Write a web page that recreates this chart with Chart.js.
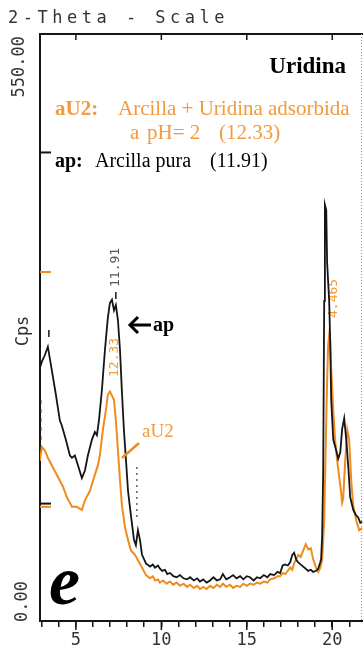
<!DOCTYPE html>
<html><head><meta charset="utf-8">
<script src="https://cdn.jsdelivr.net/npm/chart.js@4.4.0/dist/chart.umd.min.js"></script>
<style>
html,body{margin:0;padding:0;background:#fff;}
#wrap{position:relative;width:363px;height:647px;overflow:hidden;}
#title{position:absolute;left:8px;top:7px;font:17px "DejaVu Sans Mono",monospace;line-height:20px;letter-spacing:4.5px;color:#333;white-space:pre;}
</style></head><body>
<div id="wrap"><canvas id="c" width="363" height="647"></canvas><div id="title">2-Theta - Scale</div></div>
<script>
// ---- data (2-Theta in degrees, intensity in Cps) ----
const apTheta = [2.89,3.01,3.18,3.36,3.59,3.83,4.06,4.18,4.41,4.65,4.77,4.94,5.12,5.35,5.53,5.70,5.94,6.11,6.23,6.35,6.52,6.70,6.87,6.99,7.11,7.23,7.34,7.46,7.58,7.69,7.81,7.93,8.05,8.22,8.40,8.51,8.63,8.75,8.87,9.10,9.34,9.50,9.63,9.80,9.92,10.05,10.21,10.35,10.51,10.70,10.90,11.09,11.30,11.50,11.68,11.90,12.10,12.26,12.45,12.65,12.85,13.05,13.25,13.44,13.60,13.80,14.02,14.20,14.40,14.61,14.80,15.00,15.19,15.40,15.60,15.78,16.00,16.20,16.37,16.60,16.80,16.95,17.10,17.24,17.40,17.54,17.66,17.77,17.90,18.01,18.15,18.30,18.45,18.59,18.75,18.88,19.05,19.18,19.30,19.35,19.41,19.47,19.53,19.57,19.65,19.70,19.76,19.82,19.88,19.94,20.06,20.23,20.35,20.47,20.58,20.70,20.82,20.95,21.05,21.23,21.40,21.52,21.64,21.75];
const apCps = [237,243,249,257,235,212,188,183,170,155,153,155,146,134,141,155,170,177,174,188,216,254,284,298,301,291,296,282,254,216,179,151,122,99,76,71,85,76,62,54,51,53,50,52,49,47,48,44,45,42,41,43,40,39,41,38,40,37,39,36,38,41,38,39,44,39,41,43,40,42,39,42,41,38,41,40,43,41,44,43,46,45,52,53,52,55,62,64,57,55,53,51,49,47,48,46,47,49,55,58,80,140,300,390,385,336,318,300,263,207,170,160,152,158,180,190,170,142,116,104,99,97,92,93];

const aU2Theta = [2.89,3.01,3.18,3.36,3.65,3.95,4.24,4.47,4.77,5.06,5.35,5.53,5.82,6.11,6.29,6.40,6.58,6.76,6.87,6.99,7.11,7.23,7.34,7.46,7.58,7.69,7.87,8.05,8.22,8.46,8.63,8.87,9.10,9.34,9.50,9.63,9.80,9.92,10.10,10.30,10.50,10.70,10.90,11.09,11.30,11.50,11.68,11.90,12.10,12.26,12.45,12.65,12.85,13.05,13.25,13.44,13.60,13.80,14.02,14.20,14.40,14.61,14.80,15.00,15.19,15.40,15.60,15.78,16.00,16.20,16.37,16.60,16.80,16.95,17.10,17.24,17.40,17.54,17.66,17.77,17.90,18.01,18.15,18.30,18.45,18.60,18.75,18.88,19.05,19.18,19.30,19.41,19.53,19.59,19.65,19.70,19.76,19.82,19.88,19.94,20.06,20.17,20.29,20.47,20.58,20.64,20.76,20.88,20.99,21.11,21.23,21.41,21.58,21.75];
const aU2Cps = [150,163,160,153,144,135,126,116,107,107,104,113,122,137,146,155,179,198,212,215,211,207,188,160,132,109,88,76,66,62,57,50,43,40,42,38,39,36,38,35,37,34,36,33,35,32,34,31,33,30,32,30,33,31,34,32,35,32,34,31,33,32,35,33,35,34,36,35,37,36,39,40,42,42,45,44,47,50,48,54,58,62,60,66,72,67,68,58,50,46,50,57,94,141,188,225,258,268,263,235,197,169,150,127,111,115,150,179,170,132,108,94,85,87];

const xTicks = [3,4,5,6,7,8,9,10,11,12,13,14,15,16,17,18,19,20,21];
const xLabels = [5,10,15,20];
const yLabels = ['0.00','550.00'];
const peakTheta = [7.35, 7.28, 20.06];
const peakText = ['11.91','12.33','4.465'];
const markerCps = [439, 327, 110, 107];

const BLACK = '#151515';
const ORANGE = '#F08C1E';
const ORANGE_T = '#F29A3C';
const MONO = '"DejaVu Sans Mono", monospace';
const SERIF = '"Liberation Serif", serif';

function vtext(ctx, txt, x, y, align, font, color) {
  ctx.save(); ctx.translate(x, y); ctx.rotate(-Math.PI / 2);
  ctx.font = font; ctx.fillStyle = color; ctx.textAlign = align; ctx.textBaseline = 'middle';
  ctx.fillText(txt, 0, 0); ctx.restore();
}
function line(ctx, x1, y1, x2, y2, color, w, dash) {
  ctx.save(); ctx.strokeStyle = color; ctx.lineWidth = w; if (dash) ctx.setLineDash(dash);
  ctx.beginPath(); ctx.moveTo(x1, y1); ctx.lineTo(x2, y2); ctx.stroke(); ctx.restore();
}

const decor = {
  id: 'decor',
  beforeDatasetsDraw(chart) {
    const ctx = chart.ctx, xs = chart.scales.x;
    vtext(ctx, peakText[1], xs.getPixelForValue(peakTheta[1]), 377, 'left', '13px ' + MONO, ORANGE_T);
    vtext(ctx, peakText[2], xs.getPixelForValue(peakTheta[2]), 318, 'left', '13px ' + MONO, ORANGE_T);
    line(ctx, xs.getPixelForValue(8.57), 467, xs.getPixelForValue(8.57), 520, BLACK, 1, [2, 4]);
    line(ctx, 41.5, 400, 41.5, 452, ORANGE_T, 1.2, [4, 5]);
  },
  afterDraw(chart) {
    const ctx = chart.ctx, a = chart.chartArea, xs = chart.scales.x, ys = chart.scales.y;
    line(ctx, a.left - 1, a.top, chart.width, a.top, BLACK, 2);
    xLabels.forEach(v => { const px = xs.getPixelForValue(v); line(ctx, px, a.top, px, a.top + 6, BLACK, 1.5); line(ctx, px, a.bottom, px, a.bottom + 9, BLACK, 1.5); });
    line(ctx, a.right - 1.5, a.top, a.right - 1.5, a.bottom, '#9a9a9a', 1, [1, 2]);
    vtext(ctx, yLabels[1], 20, a.top + 2, 'right', '17px ' + MONO, '#333');
    vtext(ctx, yLabels[0], 23, a.bottom + 1, 'left', '17px ' + MONO, '#333');
    vtext(ctx, 'Cps', 24, 331, 'center', '17px ' + MONO, '#333');
    const mcol = [BLACK, ORANGE, BLACK, ORANGE];
    markerCps.forEach((v, i) => { const py = ys.getPixelForValue(v); line(ctx, a.left, py, a.left + 11, py, mcol[i], 2); });
    vtext(ctx, peakText[0], xs.getPixelForValue(peakTheta[0]), 287, 'left', '13px ' + MONO, '#555');
    line(ctx, xs.getPixelForValue(7.34), 292, xs.getPixelForValue(7.34), 299, BLACK, 1.5);
    line(ctx, xs.getPixelForValue(3.42), 330, xs.getPixelForValue(3.42), 337, BLACK, 1.5);
    ctx.save();
    ctx.textBaseline = 'alphabetic';
    ctx.fillStyle = '#000'; ctx.font = 'bold 23px ' + SERIF; ctx.textAlign = 'right';
    ctx.fillText('Uridina', 346, 73);
    ctx.textAlign = 'left';
    ctx.fillStyle = ORANGE_T; ctx.font = 'bold 21px ' + SERIF; ctx.fillText('aU2:', 55, 115);
    ctx.font = '21px ' + SERIF; ctx.fillText('Arcilla + Uridina adsorbida', 118, 115);
    ctx.fillText('a', 130, 139); ctx.fillText('pH= 2', 147, 139); ctx.fillText('(12.33)', 219, 139);
    ctx.fillStyle = '#000'; ctx.font = 'bold 20px ' + SERIF; ctx.fillText('ap:', 55, 167);
    ctx.font = '20px ' + SERIF; ctx.fillText('Arcilla pura', 95, 167); ctx.fillText('(11.91)', 210, 167);
    line(ctx, 151, 325, 131, 325, '#000', 3);
    ctx.strokeStyle = '#000'; ctx.lineWidth = 3; ctx.lineJoin = 'miter';
    ctx.beginPath(); ctx.moveTo(138, 317); ctx.lineTo(130, 325); ctx.lineTo(138, 333); ctx.stroke();
    ctx.fillStyle = '#000'; ctx.font = 'bold 20px ' + SERIF; ctx.fillText('ap', 153, 331);
    ctx.fillStyle = ORANGE_T; ctx.font = '19px ' + SERIF; ctx.fillText('aU2', 142, 437);
    line(ctx, 139, 443, 122, 458, ORANGE, 2.5);
    ctx.fillStyle = '#000'; ctx.font = 'italic bold 70px ' + SERIF; ctx.fillText('e', 49, 604);
    ctx.restore();
  }
};

const chart = new Chart(document.getElementById('c').getContext('2d'), {
  type: 'line',
  data: {
    datasets: [
      { label: 'ap', data: apTheta.map((x, i) => ({ x, y: apCps[i] })), borderColor: BLACK, borderWidth: 1.8, pointRadius: 0, tension: 0, fill: false },
      { label: 'aU2', data: aU2Theta.map((x, i) => ({ x, y: aU2Cps[i] })), borderColor: ORANGE, borderWidth: 2, pointRadius: 0, tension: 0, fill: false }
    ]
  },
  options: {
    responsive: false, animation: false, devicePixelRatio: 1,
    layout: { padding: { top: 34, left: 0, right: 0, bottom: 0 } },
    plugins: { legend: { display: false }, tooltip: { enabled: false }, title: { display: false } },
    scales: {
      x: {
        type: 'linear', min: 2.9, max: 21.8,
        afterBuildTicks: s => { s.ticks = xTicks.map(v => ({ value: v })); },
        afterFit: s => { s.height = 26; },
        ticks: { font: { family: 'DejaVu Sans Mono', size: 17 }, color: '#333', padding: 3, maxRotation: 0, minRotation: 0, autoSkip: false,
                 callback: v => xLabels.includes(v) ? String(v) : '' },
        grid: { drawOnChartArea: false, drawTicks: true, tickLength: 6, color: BLACK, lineWidth: 1.5 },
        border: { color: BLACK, width: 2 }
      },
      y: {
        min: 0, max: 550,
        afterFit: s => { s.width = 40; },
        ticks: { display: false },
        grid: { drawOnChartArea: false, drawTicks: false },
        border: { color: BLACK, width: 2 }
      }
    }
  },
  plugins: [decor]
});
</script></body></html>
